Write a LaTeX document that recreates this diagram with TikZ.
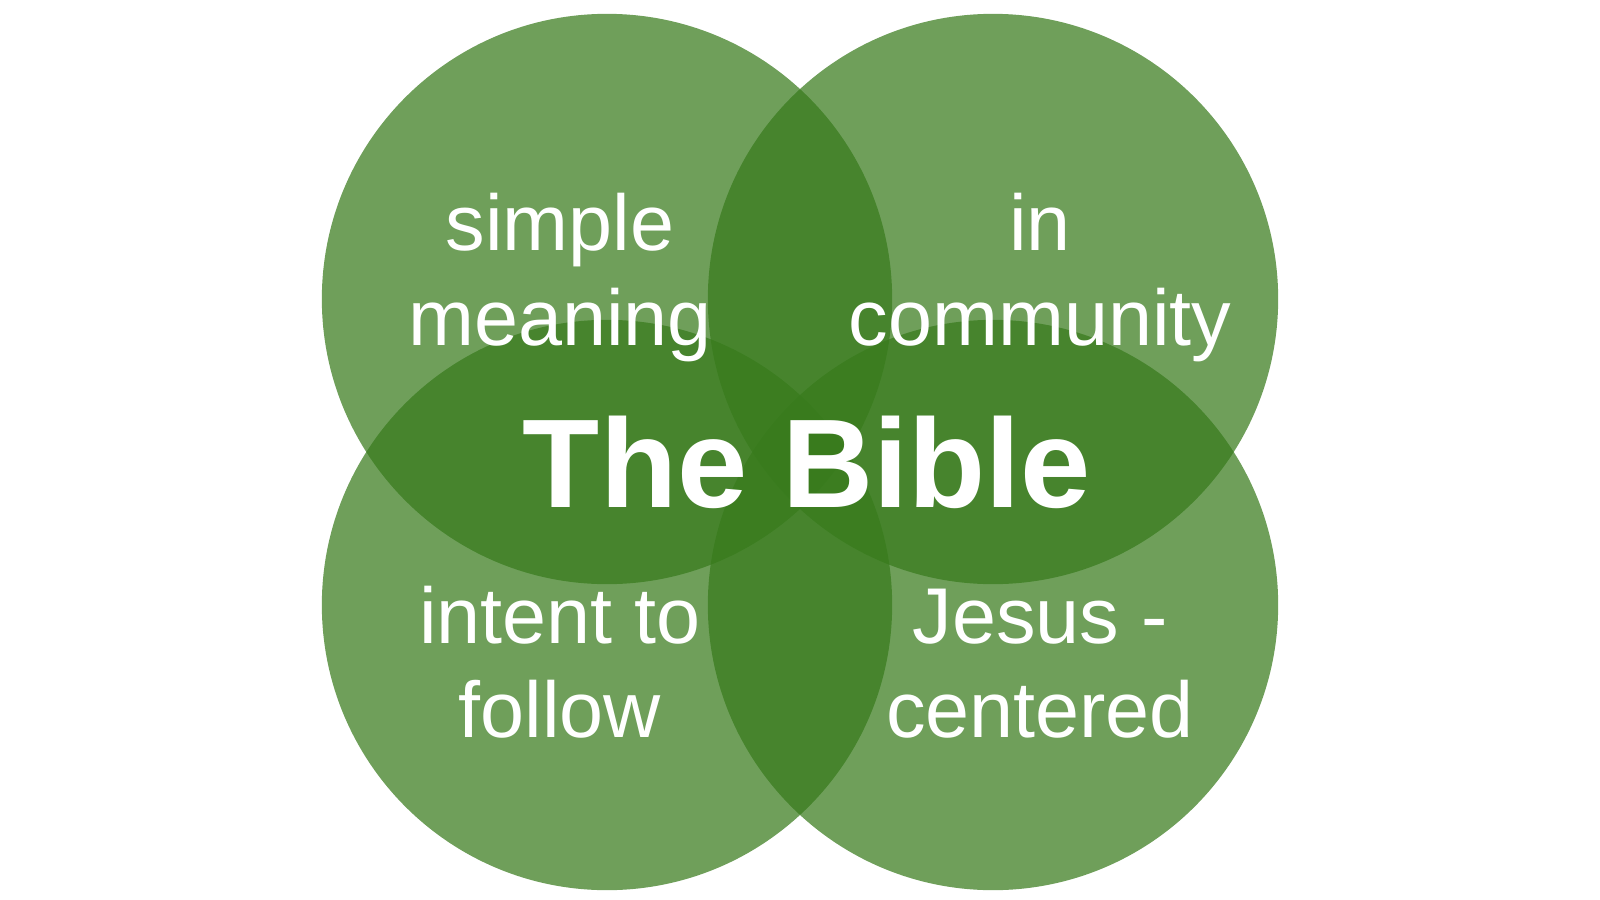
\documentclass[tikz,border=0pt]{standalone}
\usepackage{fontspec}
\setmainfont{Liberation Sans}
\definecolor{venngreen}{HTML}{377A1B}
\tikzset{
  venn/.style={circle, minimum size=5.7cm, inner sep=0pt, fill=venngreen, fill opacity=0.72, draw=none},
  lbl/.style={anchor=base, text=white, inner sep=0pt, font=\fontsize{22.5pt}{27pt}\selectfont},
  title/.style={anchor=base, text=white, inner sep=0pt, font=\fontsize{35.9pt}{43pt}\selectfont\bfseries}
}
\begin{document}
\begin{tikzpicture}[x=0.01cm,y=-0.01cm]
\useasboundingbox (0,0) rectangle (1600,900);
\node[venn] (tl) at (607,299) {};
\node[venn] (tr) at (993,299) {};
\node[venn] (bl) at (607,605) {};
\node[venn] (br) at (993,605) {};
\node[lbl] (tl1) at (560,250) {simple};
\node[lbl] (tl2) at (560,345) {meaning};
\node[lbl] (tr1) at (1040,250) {in};
\node[lbl] (tr2) at (1040,345) {community};
\node[lbl] (bl1) at (560,643) {intent to};
\node[lbl] (bl2) at (560,737) {follow};
\node[lbl] (br1) at (1040,643) {Jesus -};
\node[lbl] (br2) at (1040,737) {centered};
\node[title] (bible) at (807,507) {The Bible};
\end{tikzpicture}
\end{document}
